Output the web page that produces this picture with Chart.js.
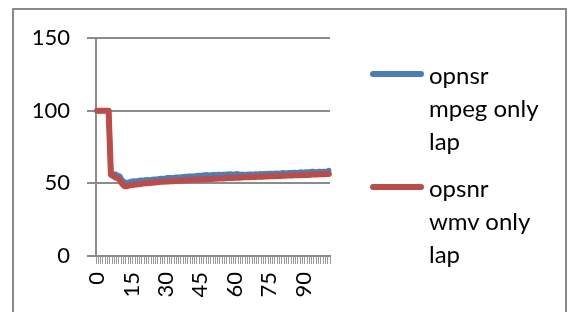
<!DOCTYPE html>
<html>
<head>
<meta charset="utf-8">
<script src="https://cdn.jsdelivr.net/npm/chart.js@4/dist/chart.umd.min.js"></script>
<style>
  html, body { margin:0; padding:0; background:#fff; }
  #wrap { position:relative; width:568px; height:312px; overflow:hidden; }
  #frame { position:absolute; left:12px; top:8px; width:555px; height:320px; border:2px solid #8a8a8a; box-sizing:border-box; }
  canvas { position:absolute; left:0; top:0; }
  .leg { position:absolute; font-family:Lato, sans-serif; font-size:24px; line-height:33px; color:#000; }
  .sw { position:absolute; height:6px; border-radius:3px; }
</style>
</head>
<body>
<div id="wrap">
  <div id="frame"></div>
  <canvas id="c" width="568" height="312"></canvas>
  <div id="legend"></div>
</div>
<script>
const categories = [0,1,2,3,4,5,6,7,8,9,10,11,12,13,14,15,16,17,18,19,20,21,22,23,24,25,26,27,28,29,30,31,32,33,34,35,36,37,38,39,40,41,42,43,44,45,46,47,48,49,50,51,52,53,54,55,56,57,58,59,60,61,62,63,64,65,66,67,68,69,70,71,72,73,74,75,76,77,78,79,80,81,82,83,84,85,86,87,88,89,90,91,92,93,94,95,96,97,98,99,100,101];
const seriesNames = ["opnsr mpeg only lap", "opsnr wmv only lap"];
const legendLines = [["opnsr", "mpeg only", "lap"], ["opsnr", "wmv only", "lap"]];
const mpeg = [100,100,100,100,100,100,57,56.5,56.5,55.5,55,52,51,50.5,51,51.5,51.8,51.6,52,52.3,52.1,52.5,52.7,52.4,52.8,53,52.9,53.3,53.5,53.4,53.8,54,54.1,53.9,54.3,54.4,54.3,54.6,54.8,54.7,55,55.1,55,55.3,55.5,55.4,55.7,55.9,56,55.8,56,56.1,56,56.2,56.1,56.3,56.2,56.4,56.6,56.3,56.5,56.7,56.4,56.2,56.3,56.1,56.4,56.5,56.3,56.6,56.5,56.7,56.6,56.8,56.7,56.9,57,56.8,57.1,57,57.2,57.4,57.1,57.3,57.5,57.4,57.6,57.3,57.7,57.9,57.6,58,57.8,58.1,58.3,57.9,58.2,58.4,58.1,58.3,58.2,59];
const wmv = [100,100,100,100,100,100,56,55,54,53.5,52,49.5,48,48,48.5,48.8,49,49.2,49.4,49.6,49.8,50,50.1,50.3,50.4,50.6,50.7,50.9,51,51.1,51.2,51.3,51.4,51.5,51.6,51.7,51.8,51.9,52,52.1,52.2,52.3,52.4,52.4,52.5,52.6,52.7,52.8,52.9,53,53,53.1,53.2,53.3,53.3,53.4,53.5,53.6,53.6,53.7,53.8,53.9,53.9,54,54.1,54.1,54.2,54.3,54.3,54.4,54.5,54.5,54.6,54.7,54.7,54.8,54.9,54.9,55,55,55.1,55.2,55.2,55.3,55.4,55.4,55.5,55.5,55.6,55.7,55.7,55.8,55.8,55.9,56,56,56.1,56.2,56.2,56.3,56.4,56.5];
const yTicks = [0, 50, 100, 150];
const xLabelStep = 15;
const colors = ["#4a7ebb", "#be4b48"];

const gridColor = "#8c8c8c";
const fontAxis = { family: "Lato, sans-serif", size: 22 };

new Chart(document.getElementById("c"), {
  type: "line",
  data: {
    labels: categories,
    datasets: [
      { label: seriesNames[0], data: mpeg, order: 2, borderColor: colors[0], backgroundColor: colors[0], borderWidth: 5, pointRadius: 0, tension: 0, borderCapStyle: "round", borderJoinStyle: "round" },
      { label: seriesNames[1], data: wmv, order: 1, borderColor: colors[1], backgroundColor: colors[1], borderWidth: 6, pointRadius: 0, tension: 0, borderCapStyle: "round", borderJoinStyle: "round" }
    ]
  },
  options: {
    responsive: false,
    animation: false,
    events: [],
    layout: { padding: { left: 0, top: 38, right: 238, bottom: 0 } },
    plugins: { legend: { display: false }, tooltip: { enabled: false } },
    scales: {
      x: {
        type: "category",
        offset: true,
        grid: { offset: true, drawOnChartArea: false, color: gridColor, lineWidth: 1, tickLength: 8, tickColor: "#9a9a9a" },
        border: { color: gridColor, width: 2 },
        ticks: {
          autoSkip: false, minRotation: 90, maxRotation: 90, padding: 8,
          color: "#000", font: fontAxis,
          callback: function(v, i) { const c = categories[i]; return c % xLabelStep === 0 ? String(c) : ""; }
        },
        afterFit: function(s) { s.height = 56; }
      },
      y: {
        min: yTicks[0], max: yTicks[yTicks.length - 1],
        afterBuildTicks: function(s) { s.ticks = yTicks.map(v => ({ value: v })); },
        grid: { color: gridColor, lineWidth: 2, tickLength: 9 },
        border: { color: gridColor, width: 2 },
        ticks: { padding: 17, color: "#000", font: fontAxis },
        afterFit: function(s) { s.width = 96; }
      }
    }
  }
});

// legend (HTML text)
const legend = document.getElementById("legend");
const legTops = [74, 187];
legendLines.forEach((lines, k) => {
  const sw = document.createElement("div");
  sw.className = "sw";
  sw.style.left = "370px"; sw.style.width = "54px";
  sw.style.top = (legTops[k] - 3) + "px";
  sw.style.background = colors[k];
  legend.appendChild(sw);
  const t = document.createElement("div");
  t.className = "leg";
  t.style.left = "429px";
  t.style.top = (legTops[k] - 16.5) + "px";
  t.innerHTML = lines.join("<br>");
  legend.appendChild(t);
});
</script>
</body>
</html>
